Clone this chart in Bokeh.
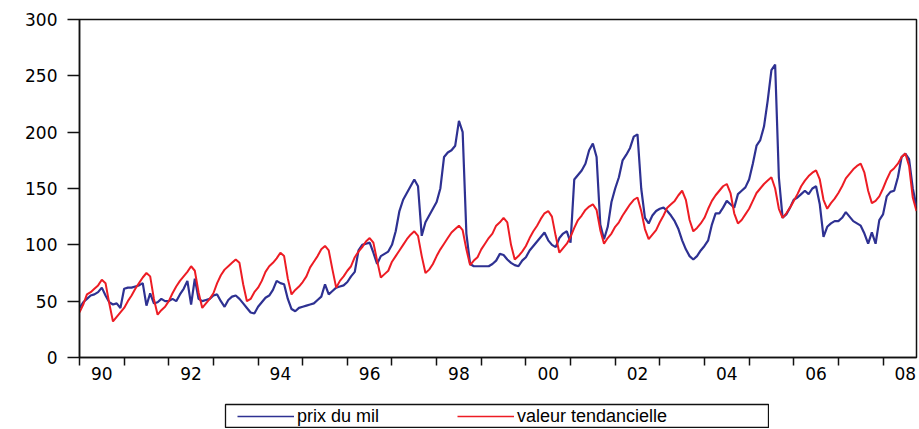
from bokeh.plotting import figure
from bokeh.models import Range1d, FixedTicker, Legend, LegendItem, Spacer
from bokeh.layouts import column, row
from bokeh.embed import file_html
from bokeh.resources import INLINE

# Monthly data, January 1990 to October 2008
start_year = 1990

prix_du_mil = [
    44, 49, 52, 55, 56, 58, 62, 55, 49, 47, 48, 44,          # 1990
    61, 62, 62, 63, 64, 66, 46, 57, 48, 49, 52, 50,          # 1991
    50, 52, 50, 56, 61, 68, 47, 70, 52, 50, 51, 52,          # 1992
    55, 56, 50, 45, 51, 54, 55, 52, 48, 44, 40, 39,          # 1993
    45, 49, 53, 55, 60, 68, 66, 65, 52, 43, 41, 44,          # 1994
    45, 46, 47, 48, 51, 54, 65, 56, 59, 62, 63, 64,          # 1995
    67, 72, 76, 95, 100, 101, 102, 93, 83, 90, 92, 94,       # 1996
    100, 112, 130, 140, 146, 152, 158, 152, 108, 120, 126, 132,  # 1997
    138, 150, 178, 182, 184, 188, 210, 200, 110, 83, 81, 81,     # 1998
    81, 81, 81, 83, 86, 92, 91, 87, 84, 82, 81, 86,          # 1999
    89, 95, 99, 103, 107, 111, 104, 100, 98, 106, 110, 112,  # 2000
    102, 158, 162, 166, 172, 184, 190, 178, 118, 105, 116, 138,  # 2001
    150, 160, 175, 180, 186, 196, 198, 150, 124, 119, 126, 130,  # 2002
    132, 133, 130, 126, 121, 114, 104, 96, 90, 87, 90, 95,   # 2003
    99, 104, 118, 128, 128, 133, 139, 136, 133, 145, 148, 151,   # 2004
    158, 172, 188, 193, 205, 228, 255, 260, 160, 124, 127, 133,  # 2005
    140, 142, 145, 148, 145, 150, 152, 136, 107, 116, 119, 121,  # 2006
    121, 124, 129, 125, 121, 119, 117, 110, 101, 111, 101, 122,  # 2007
    127, 143, 147, 148, 160, 178, 181, 176, 150, 134,            # 2008
]

valeur_tendancielle = [
    40, 47, 56, 58, 61, 64, 69, 66, 48, 32, 36, 40,          # 1990
    44, 50, 55, 61, 66, 71, 75, 72, 52, 38, 42, 45,          # 1991
    50, 57, 63, 68, 72, 76, 81, 77, 58, 44, 48, 52,          # 1992
    57, 66, 73, 78, 81, 84, 87, 84, 65, 50, 52, 58,          # 1993
    62, 68, 76, 81, 84, 88, 93, 90, 70, 56, 60, 63,          # 1994
    67, 72, 80, 85, 90, 96, 99, 95, 78, 62, 68, 72,          # 1995
    77, 81, 89, 94, 98, 103, 106, 102, 86, 71, 74, 77,       # 1996
    85, 90, 95, 100, 105, 109, 112, 108, 90, 75, 78, 83,     # 1997
    90, 96, 101, 106, 111, 114, 117, 113, 96, 82, 86, 89,    # 1998
    96, 101, 106, 110, 117, 120, 124, 120, 100, 87, 90, 94,  # 1999
    99, 106, 112, 117, 123, 128, 130, 125, 108, 93, 97, 101,     # 2000
    107, 115, 122, 126, 131, 134, 136, 131, 113, 101, 106, 110,  # 2001
    116, 120, 126, 131, 136, 140, 142, 130, 114, 105, 109, 113,  # 2002
    120, 126, 133, 136, 139, 144, 148, 140, 122, 112, 115, 119,  # 2003
    124, 132, 139, 144, 148, 152, 154, 146, 128, 119, 122, 127,  # 2004
    132, 139, 146, 150, 154, 157, 160, 150, 132, 124, 128, 133,  # 2005
    139, 145, 152, 157, 161, 164, 166, 158, 140, 132, 137, 141,  # 2006
    146, 152, 159, 163, 167, 170, 172, 164, 148, 137, 139, 143,  # 2007
    150, 158, 165, 168, 172, 178, 181, 170, 142, 130,            # 2008
]

year_ticks = list(range(1990, 2009))
label_years = list(range(1990, 2009, 2))
tick_labels = ["90", "92", "94", "96", "98", "00", "02", "04", "06", "08"]
y_ticks = [0, 50, 100, 150, 200, 250, 300]

series_names = ["prix du mil", "valeur tendancielle"]
colors = ["#2E3192", "#ED1C24"]

t = [start_year + k / 12 for k in range(len(prix_du_mil))]

p = figure(frame_width=837, frame_height=338,
           min_border_left=79, min_border_right=2, min_border_top=19, min_border_bottom=46,
           x_range=Range1d(1990, 2008.75), y_range=Range1d(0, 300),
           output_backend="svg", toolbar_location=None)
p.xgrid.visible = False
p.ygrid.visible = False
p.outline_line_color = "#111111"
p.outline_line_width = 1.5
p.background_fill_color = "white"
p.border_fill_color = "white"

p.line(t, prix_du_mil, line_color=colors[0], line_width=2.2)
p.line(t, valeur_tendancielle, line_color=colors[1], line_width=2.0)

# y axis
ya = p.yaxis[0]
ya.ticker = FixedTicker(ticks=y_ticks, minor_ticks=[])
ya.major_tick_out = 12
ya.major_tick_in = 0
ya.minor_tick_out = 0
ya.major_tick_line_width = 1.5
ya.axis_line_width = 1.5
ya.axis_line_color = "#111111"
ya.major_tick_line_color = "#111111"
ya.major_label_standoff = 10
ya.major_label_text_font = "DejaVu Sans"
ya.major_label_text_font_size = "17px"
ya.major_label_text_color = "black"

# x axis: ticks at year starts, labels centred on even years
xa = p.xaxis[0]
label_pos = [y + 0.5 for y in label_years]
xa.ticker = FixedTicker(ticks=label_pos, minor_ticks=year_ticks)
xa.major_label_overrides = {pos: lab for pos, lab in zip(label_pos, tick_labels)}
xa.major_tick_out = 8
xa.major_tick_in = 0
xa.major_tick_line_color = None
xa.minor_tick_out = 8
xa.minor_tick_in = 0
xa.minor_tick_line_color = "#111111"
xa.minor_tick_line_width = 1.5
xa.axis_line_width = 1.5
xa.axis_line_color = "#111111"
xa.major_label_standoff = 1
xa.major_label_text_font = "DejaVu Sans"
xa.major_label_text_font_size = "17px"
xa.major_label_text_color = "black"

# legend panel (box drawn by the frame outline)
p2 = figure(frame_width=543, frame_height=24,
            min_border_left=79, min_border_right=1, min_border_top=1, min_border_bottom=0,
            x_range=Range1d(0, 1), y_range=Range1d(0, 1),
            x_axis_type=None, y_axis_type=None,
            output_backend="svg", toolbar_location=None)
p2.xgrid.visible = False
p2.ygrid.visible = False
p2.outline_line_color = "#111111"
p2.outline_line_width = 1.3
nan = float("nan")
r1 = p2.line(x=[nan], y=[nan], line_color=colors[0], line_width=1.3)
r2 = p2.line(x=[nan], y=[nan], line_color=colors[1], line_width=1.3)
legend = Legend(items=[LegendItem(label=series_names[0], renderers=[r1]),
                       LegendItem(label=series_names[1], renderers=[r2])],
                orientation="horizontal", location=(12, 1),
                glyph_width=57, glyph_height=22, label_height=22, label_width=150,
                label_standoff=3, spacing=10, padding=0, margin=0,
                border_line_alpha=0, background_fill_alpha=0,
                label_text_font="Liberation Sans", label_text_font_size="18px",
                label_text_color="black")
p2.add_layout(legend)

layout = column(p, row(Spacer(width=146, height=25), p2), spacing=0)

with open("out.html", "w") as f:
    f.write(file_html(layout, INLINE))
